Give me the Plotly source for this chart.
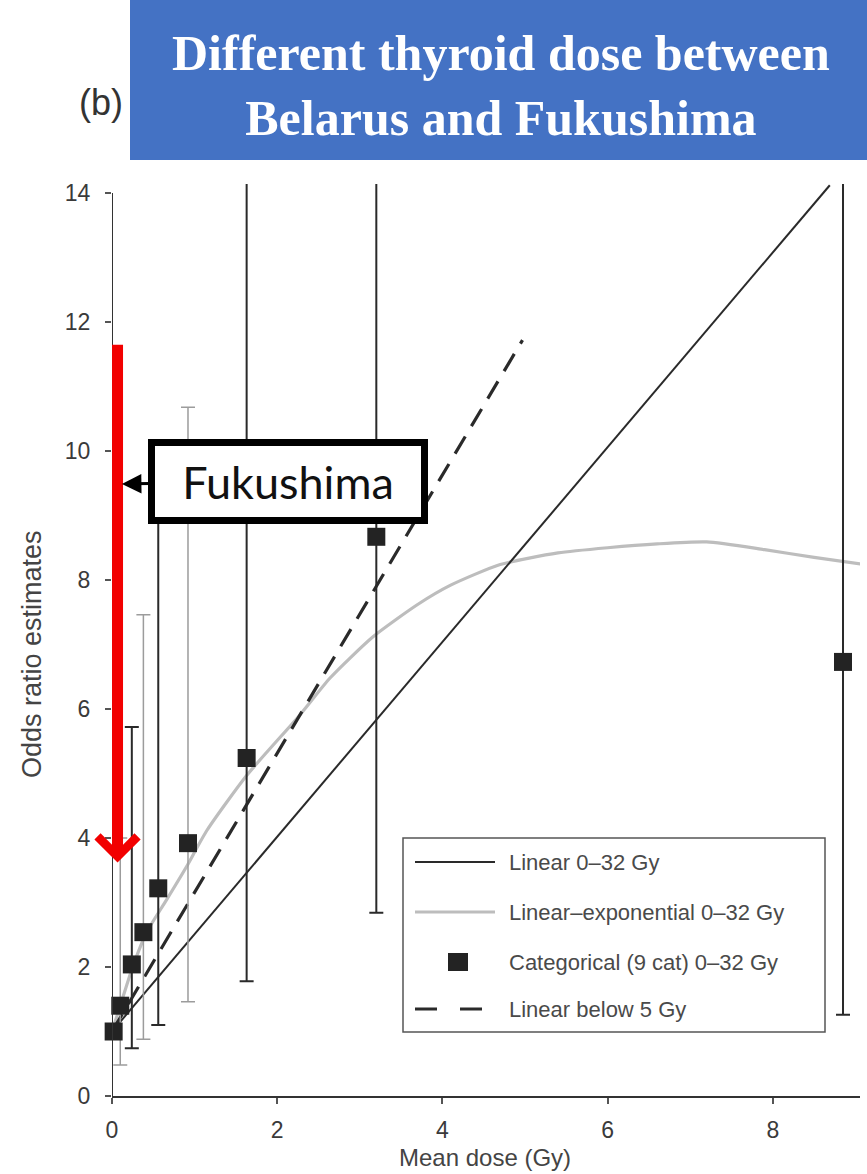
import plotly.graph_objects as go

# ---- data -------------------------------------------------------------
# Categorical (9 categories) odds ratios with confidence limits
cat_dose = [0.02, 0.10, 0.24, 0.38, 0.56, 0.92, 1.63, 3.20, 8.85]
cat_or = [1.00, 1.40, 2.04, 2.54, 3.22, 3.92, 5.24, 8.67, 6.73]
cat_lo = [None, 0.48, 0.74, 0.88, 1.10, 1.46, 1.78, 2.84, 1.26]
cat_hi = [None, 4.00, 5.72, 7.46, 9.30, 10.68, 16.0, 17.5, 30.0]
cat_bar_tone = [None, "grey", "black", "grey", "black", "grey", "black", "black", "black"]

# Linear model 0-32 Gy
linear_dose = [0.0, 8.69]
linear_or = [1.0, 14.12]

# Linear model fitted below 5 Gy
below5_dose = [0.0, 4.97]
below5_or = [1.0, 11.72]

# Linear-exponential model 0-32 Gy
linexp_dose = [0.0, 0.10, 0.25, 0.42, 0.66, 0.90, 1.15, 1.63, 2.27, 2.64, 3.16,
               3.70, 4.10, 4.70, 5.40, 6.00, 6.60, 7.20, 7.90, 8.50, 9.06]
linexp_or = [1.00, 1.40, 2.00, 2.54, 3.04, 3.55, 4.12, 4.97, 5.90, 6.48, 7.12,
             7.62, 7.92, 8.24, 8.42, 8.50, 8.56, 8.59, 8.47, 8.35, 8.25]

x_ticks = [0, 2, 4, 6, 8]
y_ticks = [0, 2, 4, 6, 8, 10, 12, 14]

legend_labels = ["Linear 0\u201332 Gy", "Linear\u2013exponential 0\u201332 Gy",
                 "Categorical (9 cat) 0\u201332 Gy", "Linear below 5 Gy"]

# Fukushima thyroid dose range marker (upper end of the red arrow)
fukushima_top = 11.67
fukushima_tip = 3.62
fukushima_dose = 0.067

# ---- page geometry ----------------------------------------------------
W, H = 867, 1174
L, R, T, B = 112, 7, 184, 78
PW, PH = W - L - R, H - T - B


def fx(px):
    return (px - L) / PW


def fy(py):
    return (H - B - py) / PH


SANS = "Liberation Sans, Arial, sans-serif"
BLACK = "#2a2a2a"
GREY_BAR = "#9c9c9c"
GREY_CURVE = "#bdbdbd"

fig = go.Figure()

fig.add_trace(go.Scatter(x=linexp_dose, y=linexp_or, mode="lines",
                         line=dict(color=GREY_CURVE, width=3.2, shape="spline",
                                   smoothing=0.6),
                         hoverinfo="skip"))
fig.add_trace(go.Scatter(x=linear_dose, y=linear_or, mode="lines",
                         line=dict(color=BLACK, width=2), hoverinfo="skip"))
fig.add_trace(go.Scatter(x=below5_dose, y=below5_or, mode="lines",
                         line=dict(color=BLACK, width=3.2, dash="20px,12px"),
                         hoverinfo="skip"))

# confidence intervals, drawn in two tones
for tone, col, wid in [("grey", GREY_BAR, 1.5), ("black", BLACK, 2)]:
    idx = [i for i, t in enumerate(cat_bar_tone) if t == tone]
    xs = [cat_dose[i] for i in idx]
    ys = [cat_or[i] for i in idx]
    up = [cat_hi[i] - cat_or[i] for i in idx]
    dn = [cat_or[i] - cat_lo[i] for i in idx]
    fig.add_trace(go.Scatter(
        x=xs, y=ys, mode="markers",
        marker=dict(size=1, color="rgba(0,0,0,0)"),
        error_y=dict(type="data", symmetric=False, array=up, arrayminus=dn,
                     color=col, thickness=wid, width=7),
        hoverinfo="skip"))

fig.add_trace(go.Scatter(x=cat_dose, y=cat_or, mode="markers",
                         marker=dict(symbol="square", size=18, color="#232323",
                                     line=dict(width=0)),
                         cliponaxis=False))

shapes = []
annotations = []

# y axis line runs from 0 to 14 only
shapes.append(dict(type="line", xref="x", yref="y", x0=0, x1=0, y0=0, y1=14,
                   line=dict(color="#333333", width=2)))

# title banner
shapes.append(dict(type="rect", xref="paper", yref="paper",
                   x0=fx(130), x1=fx(867), y0=fy(160), y1=fy(0),
                   fillcolor="#4472c4", line=dict(width=0), layer="above"))
annotations.append(dict(xref="paper", yref="paper", x=fx(501), y=fy(85),
                        xanchor="center", yanchor="middle", showarrow=False,
                        text="<b>Different thyroid dose between<br>Belarus and Fukushima</b>",
                        font=dict(family="Liberation Serif, Times New Roman, serif",
                                  size=50, color="white")))
annotations.append(dict(xref="paper", yref="paper", x=fx(101), y=fy(103),
                        xanchor="center", yanchor="middle", showarrow=False,
                        text="(b)", font=dict(family=SANS, size=36, color="#333333")))

# axis titles
annotations.append(dict(xref="paper", yref="paper", x=fx(32), y=fy(654),
                        xanchor="center", yanchor="middle", showarrow=False,
                        textangle=-90, text="Odds ratio estimates",
                        font=dict(family=SANS, size=27, color="#444444")))
annotations.append(dict(xref="paper", yref="paper", x=fx(485), y=fy(1157),
                        xanchor="center", yanchor="middle", showarrow=False,
                        text="Mean dose (Gy)",
                        font=dict(family=SANS, size=24, color="#444444")))

# legend box
shapes.append(dict(type="rect", xref="paper", yref="paper",
                   x0=fx(403), x1=fx(825), y0=fy(1032), y1=fy(838),
                   line=dict(color="#555555", width=1.5), fillcolor="white",
                   layer="above"))
rows_py = [862, 912, 962, 1009]
shapes.append(dict(type="line", xref="paper", yref="paper",
                   x0=fx(415), x1=fx(495), y0=fy(rows_py[0]), y1=fy(rows_py[0]),
                   line=dict(color=BLACK, width=2), layer="above"))
shapes.append(dict(type="line", xref="paper", yref="paper",
                   x0=fx(415), x1=fx(495), y0=fy(rows_py[1]), y1=fy(rows_py[1]),
                   line=dict(color=GREY_CURVE, width=3), layer="above"))
shapes.append(dict(type="rect", xref="paper", yref="paper",
                   x0=fx(448), x1=fx(468), y0=fy(rows_py[2] + 9), y1=fy(rows_py[2] - 9),
                   line=dict(width=0), fillcolor="#232323", layer="above"))
shapes.append(dict(type="line", xref="paper", yref="paper",
                   x0=fx(415), x1=fx(495), y0=fy(rows_py[3]), y1=fy(rows_py[3]),
                   line=dict(color=BLACK, width=3, dash="22px,23px"), layer="above"))
for lab, py in zip(legend_labels, rows_py):
    annotations.append(dict(xref="paper", yref="paper", x=fx(507), y=fy(py),
                            xanchor="left", yanchor="middle", showarrow=False,
                            text=lab, font=dict(family=SANS, size=22, color="#4a4a4a")))

# red arrow showing the Fukushima dose range
annotations.append(dict(xref="x", yref="y", axref="x", ayref="y",
                        x=fukushima_dose, y=fukushima_tip,
                        ax=fukushima_dose, ay=fukushima_top,
                        text="", showarrow=True, arrowhead=4, arrowsize=0.7,
                        arrowwidth=11, arrowcolor="#f20000"))

# Fukushima callout
annotations.append(dict(xref="x", yref="y", x=0.12, y=9.49,
                        ax=166, ay=-2, text="Fukushima",
                        font=dict(family="Lato, Noto Sans, sans-serif", size=45,
                                  color="#111111"),
                        bgcolor="white", bordercolor="black", borderwidth=7,
                        borderpad=4, width=258, height=63,
                        showarrow=True, arrowhead=2, arrowsize=1.3,
                        arrowwidth=3, arrowcolor="black"))

fig.update_layout(
    width=W, height=H,
    margin=dict(l=L, r=R, t=T, b=B),
    paper_bgcolor="white", plot_bgcolor="white",
    showlegend=False,
    shapes=shapes, annotations=annotations,
    xaxis=dict(range=[0, PW / 82.6], tickvals=x_ticks, ticktext=[str(v) for v in x_ticks],
               showgrid=False, zeroline=False, showline=True, linecolor="#333333",
               linewidth=2, ticks="outside", ticklen=6, tickwidth=1.5,
               tickcolor="#555555", ticklabelstandoff=6,
               tickfont=dict(family=SANS, size=23, color="#3a3a3a")),
    yaxis=dict(range=[0, PH / 64.5], tickvals=y_ticks, ticktext=[str(v) for v in y_ticks],
               showgrid=False, zeroline=False, showline=False,
               ticks="outside", ticklen=6, tickwidth=1.5, tickcolor="#555555",
               ticklabelstandoff=10,
               tickfont=dict(family=SANS, size=23, color="#3a3a3a")),
)

fig.write_html("out.html")
